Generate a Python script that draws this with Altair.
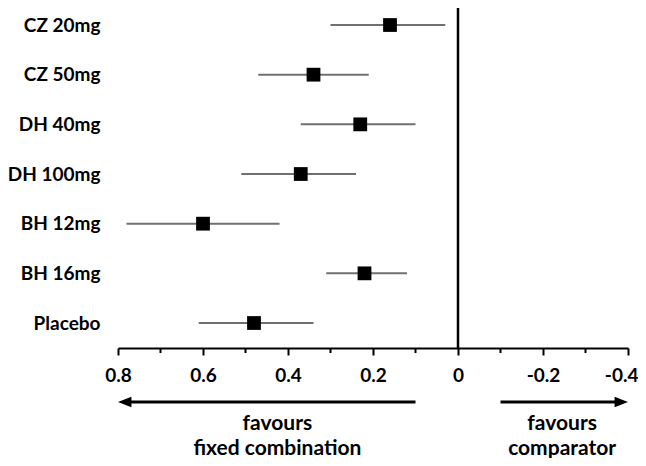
import altair as alt
import pandas as pd

labels = ["CZ 20mg", "CZ 50mg", "DH 40mg", "DH 100mg", "BH 12mg", "BH 16mg", "Placebo"]
estimate = [0.16, 0.34, 0.23, 0.37, 0.60, 0.22, 0.48]
ci_low = [0.30, 0.47, 0.37, 0.51, 0.78, 0.31, 0.61]
ci_high = [0.03, 0.21, 0.10, 0.24, 0.42, 0.12, 0.34]

major_ticks = [0.8, 0.6, 0.4, 0.2, 0.0, -0.2, -0.4]
minor_ticks = [0.7, 0.5, 0.3, 0.1, -0.1, -0.3]

FONT = "Lato"

df = pd.DataFrame({"label": labels, "est": estimate, "lo": ci_low, "hi": ci_high})
minor_df = pd.DataFrame({"v": minor_ticks})

xscale = alt.Scale(domain=[-0.4, 0.8], reverse=True, nice=False, zero=False)
yscale = alt.Scale(type="point", domain=labels, padding=0.4228, align=0.405)

xaxis = alt.Axis(
    values=major_ticks, title=None, grid=False,
    labelExpr="abs(datum.value) < 0.001 ? '0' : (datum.value < 0 ? '-' : '') + format(abs(datum.value), '.1f')",
    tickSize=7, tickWidth=2, tickColor="black",
    domainWidth=2, domainColor="black",
    labelFont=FONT, labelFontWeight="bold", labelFontSize=19, labelColor="black",
    labelPadding=11, labelFlush=False,
    labelAlign={"condition": {"test": "datum.value < -0.35", "value": "right"}, "value": "center"},
    labelOffset={"condition": {"test": "datum.value < -0.35", "value": 10}, "value": 0},
)
yaxis = alt.Axis(
    title=None, domain=False, ticks=False, grid=False, labelPadding=18,
    labelFont=FONT, labelFontWeight="bold", labelFontSize=19, labelColor="black",
)

base = alt.Chart(df)

bars = base.mark_rule(color="#707070", strokeWidth=2).encode(
    x=alt.X("lo:Q", scale=xscale, axis=xaxis),
    x2="hi:Q",
    y=alt.Y("label:N", scale=yscale, axis=yaxis, sort=labels),
)
points = base.mark_point(shape="square", filled=True, size=190, color="black", opacity=1).encode(
    x=alt.X("est:Q"),
    y=alt.Y("label:N", sort=labels),
)
zero = alt.Chart(pd.DataFrame({"z": [0.0]})).mark_rule(color="black", strokeWidth=2.5).encode(
    x="z:Q"
)
minor = alt.Chart(minor_df).mark_rule(color="black", strokeWidth=2).encode(
    x="v:Q", y=alt.value(340), y2=alt.value(345)
)

arrow_y = 394
left_line = alt.Chart(pd.DataFrame({"a": [0.1], "b": [0.8]})).mark_rule(
    color="black", strokeWidth=3, x2Offset=8
).encode(x="a:Q", x2="b:Q", y=alt.value(arrow_y))
right_line = alt.Chart(pd.DataFrame({"a": [-0.1], "b": [-0.4]})).mark_rule(
    color="black", strokeWidth=3, x2Offset=-8
).encode(x="a:Q", x2="b:Q", y=alt.value(arrow_y))
left_head = alt.Chart(pd.DataFrame({"a": [0.8]})).mark_point(
    shape="M-1,0L1,-0.78L1,0.78Z", filled=True, size=180, color="black", opacity=1,
    strokeWidth=0, xOffset=6.7
).encode(x="a:Q", y=alt.value(arrow_y))
right_head = alt.Chart(pd.DataFrame({"a": [-0.4]})).mark_point(
    shape="M1,0L-1,-0.78L-1,0.78Z", filled=True, size=180, color="black", opacity=1,
    strokeWidth=0, xOffset=-6.7
).encode(x="a:Q", y=alt.value(arrow_y))

line1_df = pd.DataFrame({"x": [0.425, -0.245], "t": ["favours", "favours"]})
line2_df = pd.DataFrame({"x": [0.425, -0.245], "t": ["fixed combination", "comparator"]})
text_style = dict(font=FONT, fontWeight="bold", fontSize=21, color="black",
                  align="center", baseline="alphabetic")
text1 = alt.Chart(line1_df).mark_text(**text_style).encode(
    x="x:Q", text="t:N", y=alt.value(422)
)
text2 = alt.Chart(line2_df).mark_text(**text_style).encode(
    x="x:Q", text="t:N", y=alt.value(447)
)

chart = alt.layer(
    bars, points, zero, minor, left_line, right_line, left_head, right_head, text1, text2
).properties(
    width=510, height=340,
    autosize=alt.AutoSizeParams(type="none"),
    padding={"left": 110, "top": 0, "right": 10, "bottom": 110},
).configure_view(stroke=None)

chart.save("out.html", embed_options={"renderer": "svg", "actions": False})
